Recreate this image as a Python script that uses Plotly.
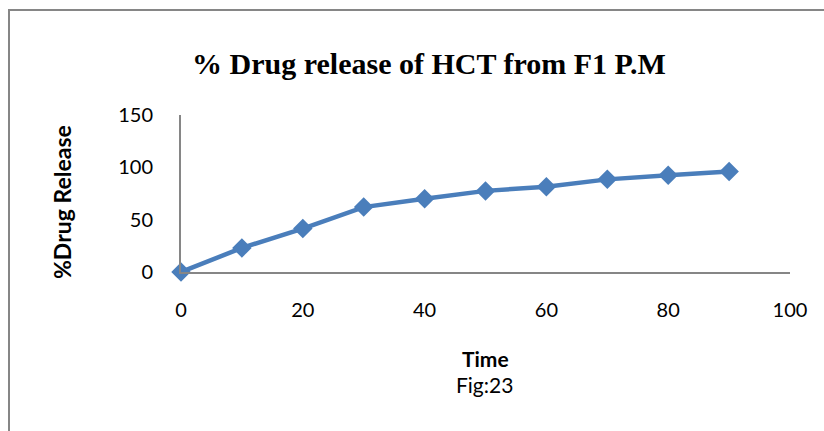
import plotly.graph_objects as go

time_min = [0, 10, 20, 30, 40, 50, 60, 70, 80, 90]
drug_release = [0, 23, 41.5, 62, 70, 77.5, 81.5, 88.5, 92.5, 96]
x_ticks = [0, 20, 40, 60, 80, 100]
y_ticks = [0, 50, 100, 150]

L, R, T, B = 181, 34, 115, 159
W, H = 824, 431
pw = W - L - R
ph = H - T - B

def px_x(px):
    return (px - L) / pw

def px_y(py):
    return (H - B - py) / ph

fig = go.Figure()
fig.add_trace(go.Scatter(
    x=time_min, y=drug_release, mode="lines+markers",
    line=dict(color="#4A7EBB", width=4.5),
    marker=dict(symbol="diamond", size=15, color="#4A7EBB"),
    cliponaxis=False, showlegend=False,
))

axis_font = dict(family="Lato, Open Sans, sans-serif", size=20, color="black")
fig.update_layout(
    width=W, height=H,
    margin=dict(l=L, r=R, t=T, b=B),
    paper_bgcolor="white", plot_bgcolor="white",
    title=dict(text="<b>% Drug release of HCT from F1 P.M</b>",
               font=dict(family="Liberation Serif, Times New Roman, serif", size=30, color="black"),
               x=429 / W, xanchor="center", y=1 - 63 / H, yanchor="middle", yref="container"),
    xaxis=dict(range=[0, 100], tickvals=x_ticks, showgrid=False, zeroline=False,
               showline=True, linecolor="#868686", linewidth=2, ticks="",
               tickfont=axis_font, ticklabelstandoff=19),
    yaxis=dict(range=[0, 150], tickvals=y_ticks, showgrid=False, zeroline=False,
               showline=True, linecolor="#868686", linewidth=2, ticks="",
               tickfont=axis_font, ticklabelstandoff=22),
    shapes=[dict(type="rect", xref="paper", yref="paper",
                 x0=px_x(9), x1=px_x(900), y0=px_y(500), y1=px_y(10),
                 line=dict(color="#868686", width=2), fillcolor="rgba(0,0,0,0)")],
    annotations=[
        dict(text="<b>Time</b>", xref="paper", yref="paper", x=px_x(485), y=px_y(358),
             showarrow=False, xanchor="center", yanchor="middle",
             font=dict(family="Lato, Open Sans, sans-serif", size=21, color="black")),
        dict(text="Fig:23", xref="paper", yref="paper", x=px_x(484), y=px_y(384),
             showarrow=False, xanchor="center", yanchor="middle",
             font=dict(family="Lato, Open Sans, sans-serif", size=21, color="black")),
        dict(text="<b>%Drug Release</b>", xref="paper", yref="paper", x=px_x(62), y=px_y(202),
             showarrow=False, xanchor="center", yanchor="middle", textangle=-90,
             font=dict(family="Lato, Open Sans, sans-serif", size=23, color="black")),
    ],
)

fig.write_html("out.html")
